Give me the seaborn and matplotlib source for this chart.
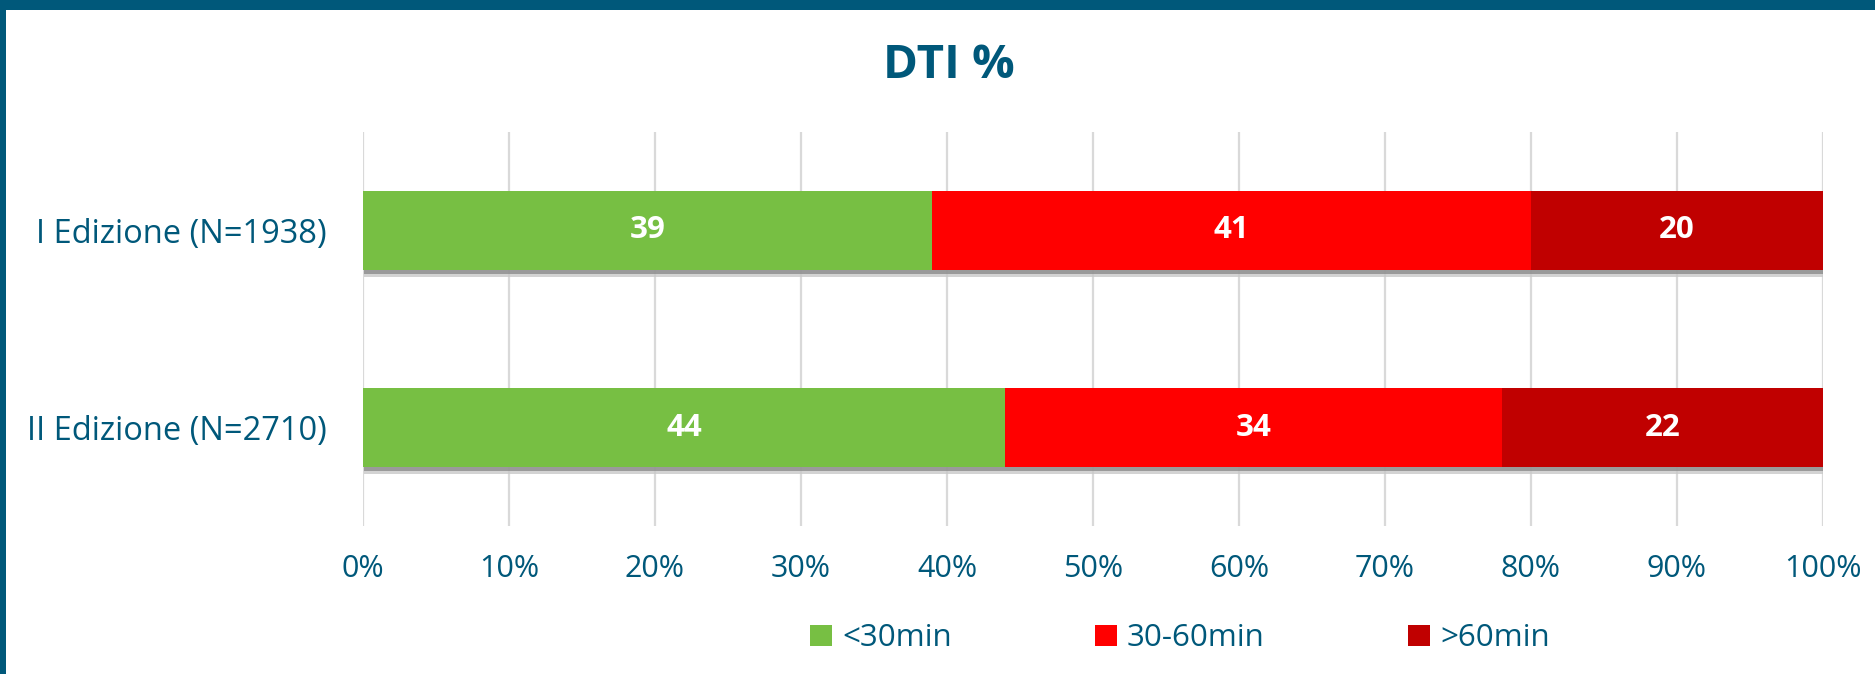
import numpy as np
import pandas as pd
import matplotlib.pyplot as plt
import matplotlib.patheffects as pe
from matplotlib.patches import Rectangle, Patch
import seaborn as sns

# dati
editions = ['I Edizione (N=1938)', 'II Edizione (N=2710)']
under_30 = [39, 44]
from_30_to_60 = [41, 34]
over_60 = [20, 22]
series_names = ['<30min', '30-60min', '>60min']
series_colors = ['#77BF43', '#FF0000', '#C00000']
ticks = np.arange(0, 101, 10)

TEAL = '#00587A'

sns.set_theme(style='white')
plt.rcParams['font.family'] = ['Open Sans', 'DejaVu Sans']

df = pd.DataFrame({'edition': editions,
                   series_names[0]: under_30,
                   series_names[1]: from_30_to_60,
                   series_names[2]: over_60})
cum = df[series_names].cumsum(axis=1)

fig = plt.figure(figsize=(18.75, 6.74), dpi=100)
ax = fig.add_axes([363 / 1875, 1 - 526 / 674, (1823 - 363) / 1875, (526 - 132) / 674])

# barre impilate: si disegnano le somme cumulate dalla piu lunga alla piu corta
for i in reversed(range(len(series_names))):
    sns.barplot(x=cum[series_names[i]], y=df['edition'], orient='h',
                color=series_colors[i], width=0.4, saturation=1,
                linewidth=0, ax=ax, zorder=3)

# ombra sotto le barre complete
n = len(editions)
for p in ax.patches[:n]:
    p.set_path_effects([pe.SimplePatchShadow(offset=(0.5, -5), shadow_rgbFace='#C8C8C8', alpha=0.8),
                        pe.SimplePatchShadow(offset=(0.5, -3), shadow_rgbFace='#8C8C8C', alpha=0.8),
                        pe.Normal()])

# etichette dei valori
for i in range(len(series_names)):
    start = cum[series_names[i]] - df[series_names[i]]
    for j in range(n):
        val = df[series_names[i]].iloc[j]
        ax.text(start.iloc[j] + val / 2, j, str(val), color='white', fontsize=22.5,
                fontweight='bold', ha='center', va='center', zorder=5)

ax.set_xlim(0, 100)
ax.set_ylim(1.5, -0.5)
ax.set_xticks(ticks)
ax.set_xticklabels([f'{t}%' for t in ticks])
ax.set_xlabel('')
ax.set_ylabel('')
ax.grid(axis='x', color='#D9D9D9', linewidth=1.6, zorder=0)
ax.grid(axis='y', visible=False)
ax.set_axisbelow(True)
for s in ax.spines.values():
    s.set_visible(False)
ax.tick_params(axis='x', length=0, pad=20, labelsize=22, labelcolor=TEAL)
ax.tick_params(axis='y', length=0, pad=26, labelsize=23.5, labelcolor=TEAL)

# legenda
handles = [Patch(facecolor=c, edgecolor='none', label=l) for c, l in zip(series_colors, series_names)]
fig.legend(handles=handles, loc='center', bbox_to_anchor=(1180 / 1875, 1 - 638.5 / 674),
           ncol=3, frameon=False, fontsize=22.5, labelcolor=TEAL,
           handlelength=0.68, handleheight=0.68, handletextpad=0.33, columnspacing=4.6)

# titolo
fig.text(949 / 1875, 1 - 65 / 674, 'DTI %', fontsize=34, fontweight='bold',
         color=TEAL, ha='center', va='center')

# bordo superiore e sinistro
fig.patches.append(Rectangle((0, 1 - 10 / 674), 1, 10 / 674, transform=fig.transFigure,
                             facecolor=TEAL, edgecolor='none', zorder=10))
fig.patches.append(Rectangle((0, 0), 6 / 1875, 1, transform=fig.transFigure,
                             facecolor=TEAL, edgecolor='none', zorder=10))

fig.savefig('out.png', dpi=100, facecolor='white')
